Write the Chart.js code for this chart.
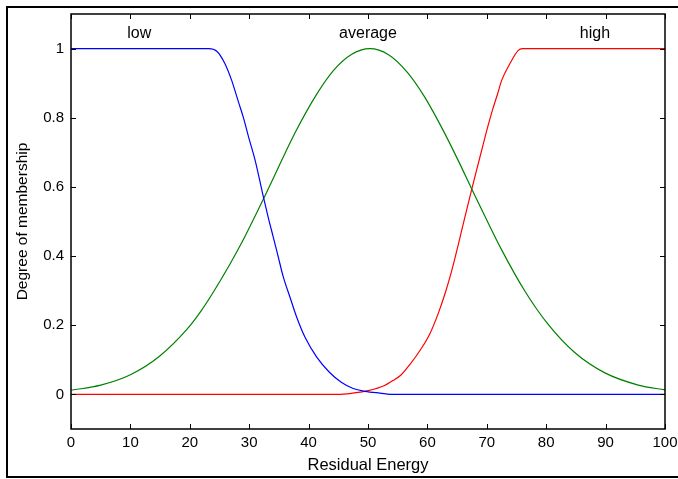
<!DOCTYPE html>
<html>
<head>
<meta charset="utf-8">
<script src="https://cdn.jsdelivr.net/npm/chart.js@4/dist/chart.umd.min.js"></script>
<style>
  html, body { margin: 0; padding: 0; background: #fff; }
  #wrap { width: 678px; height: 479px; }
</style>
</head>
<body>
<div id="wrap"><canvas id="mf" width="678" height="479"></canvas></div>
<script>
// membership curves (x = residual energy, y = degree)
const lowX = [0, 23.2, 24.5, 25.9, 27.05, 28.2, 29.0, 29.9, 31.0, 32.27, 33.2, 34.05, 34.9, 35.75, 36.87, 38.0, 39.4, 41.4, 43.5, 45.5, 47.5, 49.5, 52, 54.5, 100];
const lowY = [1, 1, 0.993, 0.957, 0.908, 0.845, 0.802, 0.744, 0.677, 0.58, 0.512, 0.455, 0.397, 0.339, 0.281, 0.223, 0.165, 0.107, 0.064, 0.035, 0.017, 0.009, 0.004, 0, 0];

const avgX = [0, 5, 10, 15, 19.5, 22, 24, 26.8, 29, 31, 32.7, 35.2, 37.7, 41.4, 44.2, 47.2, 50.3, 53.4, 56.7, 59.5, 62.3, 65.2, 67.4, 69.6, 72.5, 76.4, 80.3, 84.8, 89.8, 95.5, 100];
const avgY = [0.012, 0.027, 0.057, 0.112, 0.188, 0.244, 0.297, 0.378, 0.447, 0.516, 0.576, 0.667, 0.756, 0.869, 0.937, 0.983, 1, 0.983, 0.93, 0.861, 0.775, 0.676, 0.596, 0.518, 0.418, 0.299, 0.203, 0.121, 0.063, 0.027, 0.013];

const highX = [0, 45, 47.5, 50, 52.8, 54.2, 55.6, 57.07, 58.75, 60.4, 61.8, 62.96, 64.1, 65.2, 66.3, 67.45, 68.3, 69.2, 70.1, 71.0, 71.8, 72.5, 73.9, 75.3, 76, 100];
const highY = [0, 0, 0.004, 0.011, 0.026, 0.04, 0.057, 0.087, 0.127, 0.175, 0.233, 0.291, 0.358, 0.433, 0.512, 0.592, 0.65, 0.71, 0.77, 0.825, 0.868, 0.908, 0.957, 0.995, 1, 1];

const mfNames = ['low', 'average', 'high'];
const mfLabelX = [11.5, 50, 88.2];
const mfLabelY = 1.044;

const xTicks = [0, 10, 20, 30, 40, 50, 60, 70, 80, 90, 100];
const yTicks = [0, 0.2, 0.4, 0.6, 0.8, 1];

const xTitle = 'Residual Energy';
const yTitle = 'Degree of membership';

const FONT = 'Arial, "Liberation Sans", Helvetica, sans-serif';

function toPoints(xs, ys) {
  return xs.map((x, i) => ({ x: x, y: ys[i] }));
}

// box, inward ticks, mf names, axis titles and outer frame (MATLAB style)
const matlabBox = {
  id: 'matlabBox',
  afterDraw(chart) {
    const ctx = chart.ctx;
    const a = chart.chartArea;
    const sx = chart.scales.x;
    const sy = chart.scales.y;
    const tick = 5;

    ctx.save();
    ctx.strokeStyle = '#000';
    ctx.lineWidth = 1.5;
    ctx.strokeRect(a.left, a.top, a.right - a.left, a.bottom - a.top);

    ctx.lineWidth = 1;
    ctx.beginPath();
    xTicks.forEach(v => {
      const px = Math.round(sx.getPixelForValue(v)) + 0.5;
      ctx.moveTo(px, a.bottom); ctx.lineTo(px, a.bottom - tick);
      ctx.moveTo(px, a.top); ctx.lineTo(px, a.top + tick);
    });
    yTicks.forEach(v => {
      const py = Math.round(sy.getPixelForValue(v)) + 0.5;
      ctx.moveTo(a.left, py); ctx.lineTo(a.left + tick, py);
      ctx.moveTo(a.right, py); ctx.lineTo(a.right - tick, py);
    });
    ctx.stroke();

    ctx.fillStyle = '#000';
    ctx.font = '16px ' + FONT;
    ctx.textAlign = 'center';
    ctx.textBaseline = 'middle';
    mfNames.forEach((name, i) => {
      ctx.fillText(name, sx.getPixelForValue(mfLabelX[i]), sy.getPixelForValue(mfLabelY));
    });

    ctx.font = '16.5px ' + FONT;
    ctx.fillText(xTitle, (a.left + a.right) / 2, a.bottom + 36);
    ctx.save();
    ctx.translate(22.5, (a.top + a.bottom) / 2);
    ctx.rotate(-Math.PI / 2);
    ctx.font = '15.5px ' + FONT;
    ctx.fillText(yTitle, 0, 0);
    ctx.restore();

    // outer figure frame
    ctx.lineWidth = 2;
    ctx.strokeRect(7, 7, 680, 470);
    ctx.restore();
  }
};

new Chart(document.getElementById('mf'), {
  type: 'line',
  data: {
    datasets: [
      { label: 'low', data: toPoints(lowX, lowY), borderColor: '#0000ff' },
      { label: 'average', data: toPoints(avgX, avgY), borderColor: '#008000' },
      { label: 'high', data: toPoints(highX, highY), borderColor: '#ff0000' }
    ]
  },
  options: {
    responsive: false,
    animation: false,
    devicePixelRatio: 1,
    layout: { padding: { top: 14, right: 13, left: 0, bottom: 0 } },
    elements: {
      point: { radius: 0 },
      line: { borderWidth: 1.2, fill: false, cubicInterpolationMode: 'monotone' }
    },
    plugins: {
      legend: { display: false },
      tooltip: { enabled: false }
    },
    scales: {
      x: {
        type: 'linear',
        min: 0,
        max: 100,
        grid: { display: false, drawTicks: false },
        border: { display: false },
        afterBuildTicks: s => { s.ticks = xTicks.map(v => ({ value: v })); },
        afterFit: s => {
          s.height = 50;
          // let "100" hang over the edge like the original
          s.paddingLeft = 0;
          s.paddingRight = 0;
        },
        ticks: {
          padding: 5,
          maxRotation: 0,
          autoSkip: false,
          color: '#000',
          font: { family: FONT, size: 15 },
          callback: v => String(v)
        }
      },
      y: {
        min: -0.1,
        max: 1.1,
        grid: { display: false, drawTicks: false },
        border: { display: false },
        afterBuildTicks: s => { s.ticks = yTicks.map(v => ({ value: v })); },
        afterFit: s => {
          s.width = 71;
          s.paddingTop = 0;
          s.paddingBottom = 0;
        },
        ticks: {
          padding: 7,
          autoSkip: false,
          color: '#000',
          font: { family: FONT, size: 15 },
          callback: v => String(Math.round(v * 10) / 10)
        }
      }
    }
  },
  plugins: [matlabBox]
});
</script>
</body>
</html>
